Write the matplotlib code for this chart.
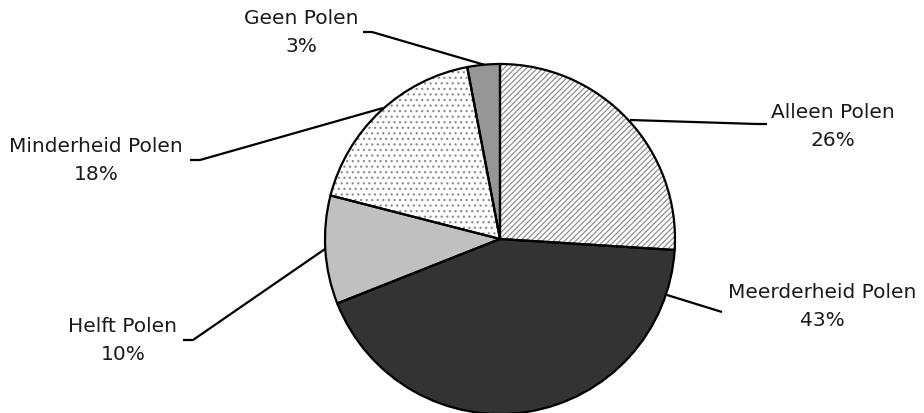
import matplotlib
matplotlib.use('Agg')
from matplotlib import pyplot as plt

labels = ['Alleen Polen', 'Meerderheid Polen', 'Helft Polen', 'Minderheid Polen', 'Geen Polen']
shares = [26, 43, 10, 18, 3]
fills = ['white', '#333333', '#c0c0c0', 'white', '#969696']
hatches = ['//////', '', '', '...', '']

# label layout in pixels (text centre x, first line y, leader line points)
W, H = 924, 413
label_pos = {
    'Alleen Polen': (833, 112, [(630, 120), (757, 124), (767, 124)]),
    'Meerderheid Polen': (822, 293, [(667, 295), (722, 312)]),
    'Helft Polen': (123, 327, [(325, 249), (193, 340), (183, 340)]),
    'Minderheid Polen': (96, 147, [(383, 108), (200, 160), (190, 160)]),
    'Geen Polen': (301, 19, [(485, 65), (372, 32), (363, 32)]),
}

plt.rcParams['font.family'] = 'DejaVu Sans'
plt.rcParams['hatch.linewidth'] = 0.9

fig = plt.figure(figsize=(W / 100, H / 100), dpi=100)
ax = fig.add_axes([0, 0, 1, 1])

cx, cy, r = 500, H - 239, 175

# fill + hatch layer
ax.pie(shares, colors=fills, hatch=hatches, startangle=90, counterclock=False,
       center=(cx, cy), radius=r, frame=True,
       wedgeprops=dict(edgecolor='#8f8f8f', linewidth=0))
# outline layer
ax.pie(shares, colors=['none'] * len(shares), startangle=90, counterclock=False,
       center=(cx, cy), radius=r, frame=True,
       wedgeprops=dict(edgecolor='black', linewidth=1.6))
ax.set_xlim(0, W)
ax.set_ylim(0, H)
ax.set_aspect('equal')
ax.axis('off')

for name, pct in zip(labels, shares):
    tx, ty, pts = label_pos[name]
    xs = [p[0] for p in pts]
    ys = [H - p[1] for p in pts]
    ax.plot(xs, ys, color='black', lw=1.6, solid_capstyle='butt', zorder=0.5)
    ax.text(tx, H - ty, name, ha='center', va='center', fontsize=14.5, color='#1a1a1a')
    ax.text(tx, H - ty - 28, '{}%'.format(pct), ha='center', va='center',
            fontsize=14.5, color='#1a1a1a')

fig.savefig('out.png', dpi=100)
